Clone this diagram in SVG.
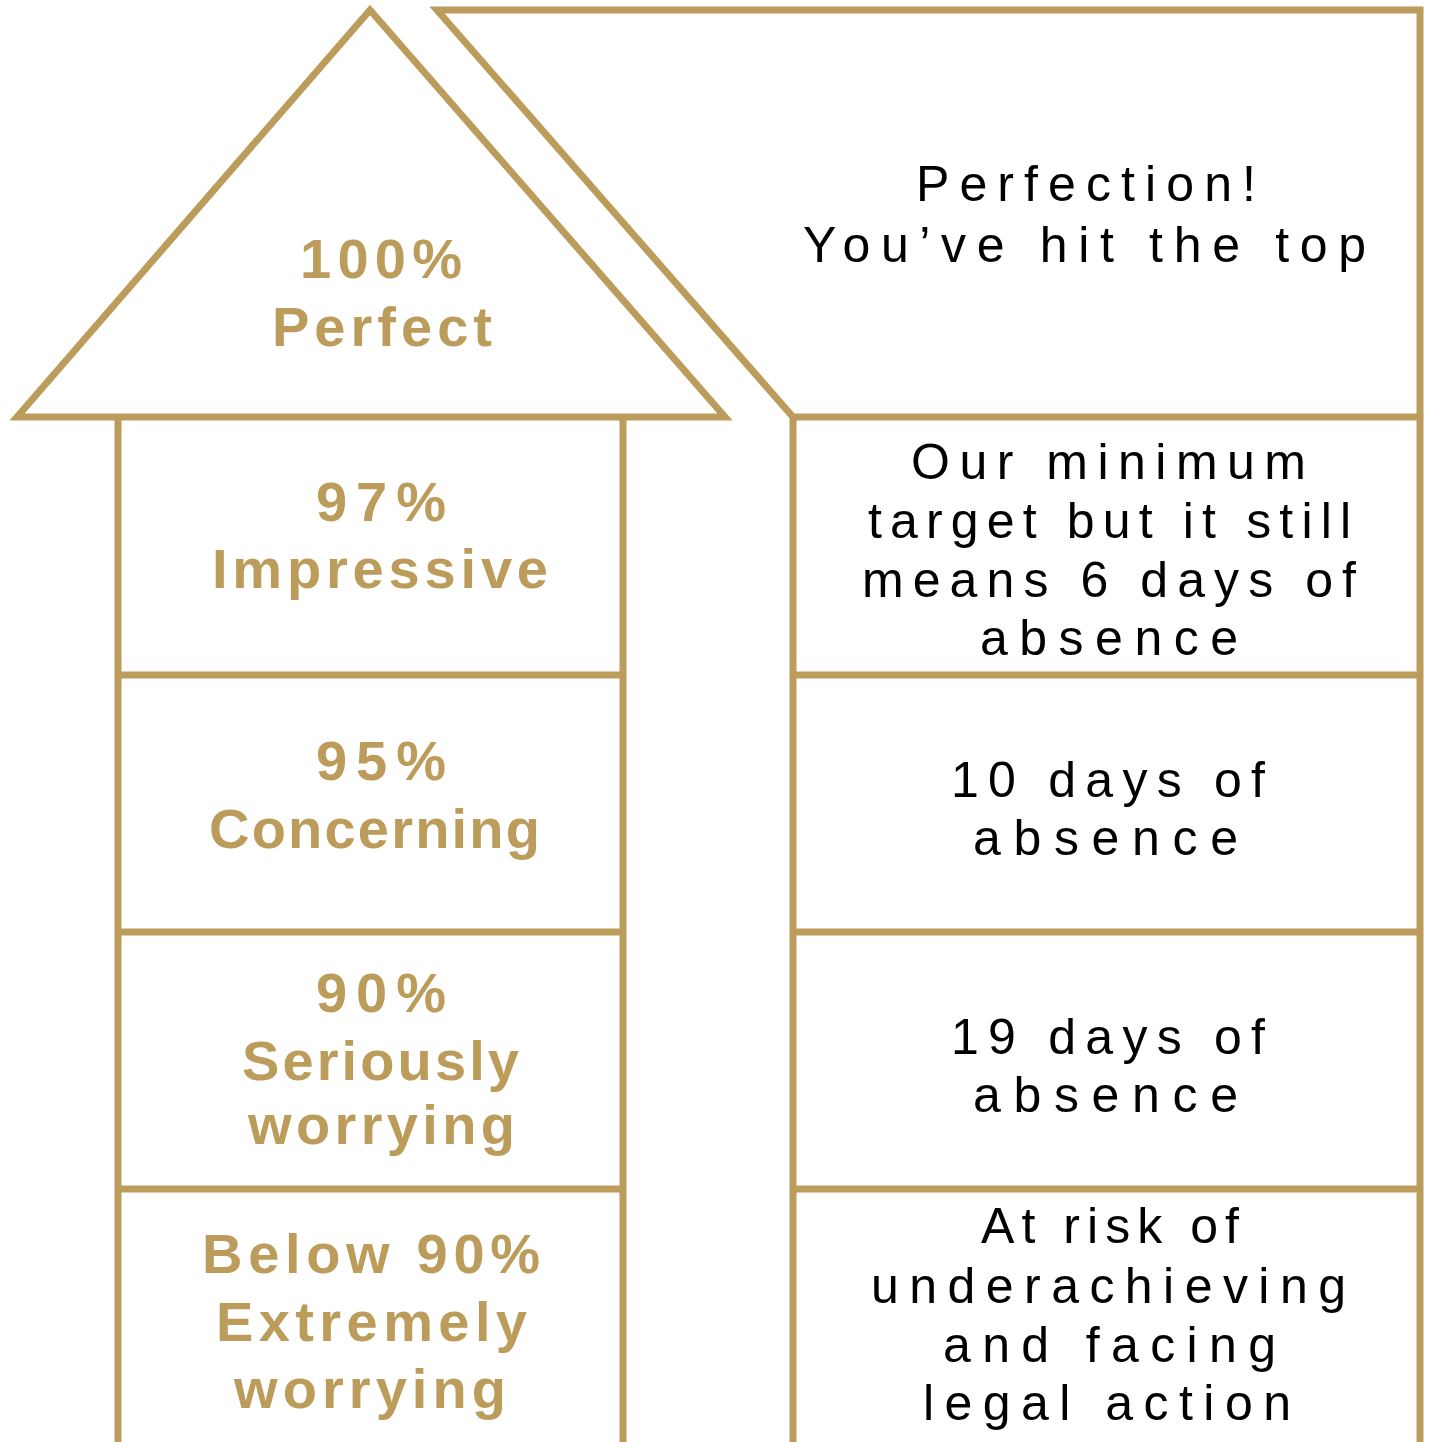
<svg xmlns="http://www.w3.org/2000/svg" width="1432" height="1442" viewBox="0 0 1432 1442">
<style>
  .ln { fill: none; stroke: #BC9C5B; stroke-width: 7; stroke-linejoin: miter; }
  .lbl { font-family: "Liberation Sans", Arial, sans-serif; font-weight: bold; font-size: 56px; fill: #BC9C5B; }
  .desc { font-family: "Liberation Sans", Arial, sans-serif; font-size: 50px; fill: #000000; }
</style>
<rect x="0" y="0" width="1432" height="1442" fill="#ffffff"/>
<g id="left-arrow">
  <polygon class="ln" points="17,417 370,10 725,417"/>
  <polyline class="ln" points="118,417 118,1450"/>
  <polyline class="ln" points="623,417 623,1450"/>
  <line class="ln" x1="118" y1="675" x2="623" y2="675"/>
  <line class="ln" x1="118" y1="932" x2="623" y2="932"/>
  <line class="ln" x1="118" y1="1189" x2="623" y2="1189"/>
</g>
<g id="right-panel">
  <polyline class="ln" points="793,1450 793,417 437,10 1420,10 1420,1450"/>
  <line class="ln" x1="793" y1="417" x2="1420" y2="417"/>
  <line class="ln" x1="793" y1="675" x2="1420" y2="675"/>
  <line class="ln" x1="793" y1="932" x2="1420" y2="932"/>
  <line class="ln" x1="793" y1="1189" x2="1420" y2="1189"/>
</g>
<g id="node-100">
  <text class="lbl" x="300" y="278" textLength="162" lengthAdjust="spacing">100%</text>
  <text class="lbl" x="272" y="346" textLength="220" lengthAdjust="spacing">Perfect</text>
</g>
<g id="node-97">
  <text class="lbl" x="316" y="521" textLength="130" lengthAdjust="spacing">97%</text>
  <text class="lbl" x="212" y="588" textLength="336" lengthAdjust="spacing">Impressive</text>
</g>
<g id="node-95">
  <text class="lbl" x="316" y="780" textLength="130" lengthAdjust="spacing">95%</text>
  <text class="lbl" x="209" y="848" textLength="331" lengthAdjust="spacing">Concerning</text>
</g>
<g id="node-90">
  <text class="lbl" x="316" y="1012" textLength="130" lengthAdjust="spacing">90%</text>
  <text class="lbl" x="242" y="1080" textLength="277" lengthAdjust="spacing">Seriously</text>
  <text class="lbl" x="248" y="1144" textLength="267" lengthAdjust="spacing">worrying</text>
</g>
<g id="node-below90">
  <text class="lbl" x="202" y="1273" textLength="338" lengthAdjust="spacing">Below 90%</text>
  <text class="lbl" x="216" y="1341" textLength="311" lengthAdjust="spacing">Extremely</text>
  <text class="lbl" x="234" y="1408" textLength="272" lengthAdjust="spacing">worrying</text>
</g>
<g id="desc-100">
  <text class="desc" x="916" y="201" textLength="340" lengthAdjust="spacing">Perfection!</text>
  <text class="desc" x="803" y="262" textLength="563" lengthAdjust="spacing">You’ve hit the top</text>
</g>
<g id="desc-97">
  <text class="desc" x="911" y="479" textLength="395" lengthAdjust="spacing">Our minimum</text>
  <text class="desc" x="868" y="538" textLength="483" lengthAdjust="spacing">target but it still</text>
  <text class="desc" x="862" y="597" textLength="494" lengthAdjust="spacing">means 6 days of</text>
  <text class="desc" x="980" y="655" textLength="258" lengthAdjust="spacing">absence</text>
</g>
<g id="desc-95">
  <text class="desc" x="951" y="797" textLength="314" lengthAdjust="spacing">10 days of</text>
  <text class="desc" x="973" y="855" textLength="265" lengthAdjust="spacing">absence</text>
</g>
<g id="desc-90">
  <text class="desc" x="951" y="1054" textLength="314" lengthAdjust="spacing">19 days of</text>
  <text class="desc" x="973" y="1112" textLength="265" lengthAdjust="spacing">absence</text>
</g>
<g id="desc-below90">
  <text class="desc" x="981" y="1243" textLength="258" lengthAdjust="spacing">At risk of</text>
  <text class="desc" x="871" y="1303" textLength="475" lengthAdjust="spacing">underachieving</text>
  <text class="desc" x="943" y="1362" textLength="333" lengthAdjust="spacing">and facing</text>
  <text class="desc" x="923" y="1420" textLength="368" lengthAdjust="spacing">legal action</text>
</g>
</svg>
